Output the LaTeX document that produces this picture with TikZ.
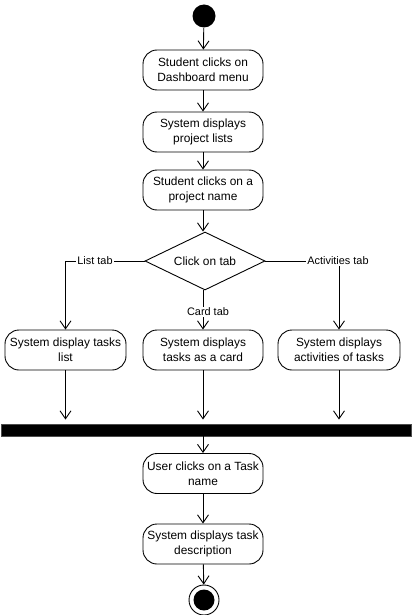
\documentclass[tikz,border=0pt]{standalone}
\usepackage{fontspec}
\setmainfont{Liberation Sans}
\usetikzlibrary{arrows.meta,shapes.geometric}
\begin{document}
\begin{tikzpicture}[x=1pt,y=-1pt,
  every path/.style={line width=0.9pt},
  act/.style={draw, rounded corners=14pt, minimum width=120pt, minimum height=40pt,
    inner sep=0pt, align=center, font=\fontsize{11.9}{14.8}\selectfont},
  flow/.style={draw, -{Straight Barb[length=8pt,width=11pt]}},
  lbl/.style={fill=white, inner sep=1pt, font=\fontsize{10.9}{13}\selectfont}]
\useasboundingbox (0,0) rectangle (412,615);
\node[circle, fill=black, minimum size=23pt, inner sep=0pt] (start) at (204,16) {};
\node[act] (b1) at (203,70) {Student clicks on\\Dashboard menu};
\node[act] (b2) at (203,132) {System displays\\project lists};
\node[act] (b3) at (203,190) {Student clicks on a\\project name};
\node[draw, diamond, aspect=2.07, minimum width=120pt, minimum height=58pt, inner sep=0pt,
  font=\fontsize{11.9}{14}\selectfont] (d) at (205,261) {Click on tab};
\node[act, minimum width=121pt] (l) at (65.5,350) {System display tasks\\list};
\node[act] (m) at (203,350) {System displays\\tasks as a card};
\node[act, minimum width=122pt] (r) at (339,350) {System displays\\activities of tasks};
\node[fill=black, draw=black!70, minimum width=410pt, minimum height=12pt, inner sep=0pt] (bar) at (206,430) {};
\node[act] (b4) at (203,473.5) {User clicks on a Task\\name};
\node[act] (b5) at (203,544) {System displays task\\description};
\node[circle, draw, minimum size=30pt, inner sep=0pt] (end) at (204,600) {};
\node[circle, fill=black, minimum size=21pt, inner sep=0pt] at (end.center) {};
\coordinate (lc) at (65.5,261);
\coordinate (rc) at (339,261);
\draw[flow] (start) -- (b1);
\draw[flow] (b1) -- (b2);
\draw[flow] (b2) -- (b3);
\draw[flow] (b3) -- (b3 |- d.north);
\draw[flow] (d.west) -- (lc) -- (l.north);
\draw[flow] (d.east) -- (rc) -- (r.north);
\draw[flow] (d.south -| m.north) -- (m.north);
\node[lbl] at (95,261) {List tab};
\node[lbl] at (338,261) {Activities tab};
\node[lbl] at (208,312) {Card tab};
\draw[flow, shorten >=4pt] (l.south) -- (l.south |- bar.north);
\draw[flow, shorten >=4pt] (m.south) -- (m.south |- bar.north);
\draw[flow, shorten >=4pt] (r.south) -- (r.south |- bar.north);
\draw[flow] (bar.south -| b4.north) -- (b4.north);
\draw[flow] (b4) -- (b5);
\draw[flow] (b5) -- (end);
\end{tikzpicture}
\end{document}
